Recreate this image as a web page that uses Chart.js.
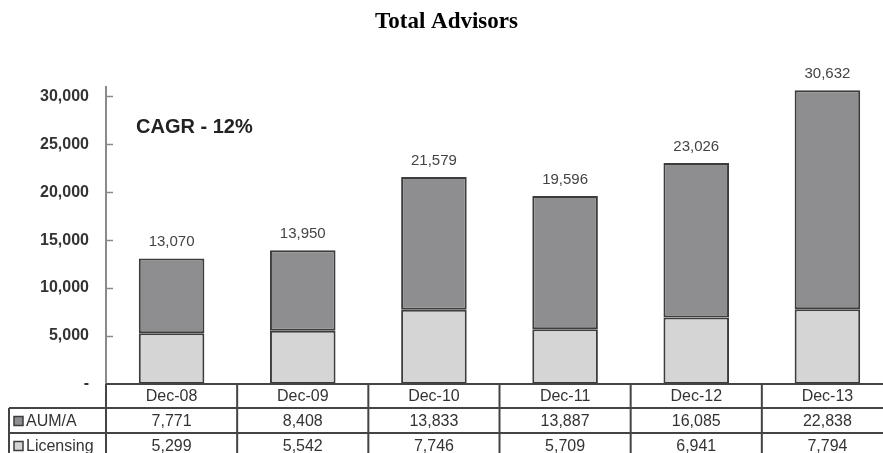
<!DOCTYPE html>
<html>
<head>
<meta charset="utf-8">
<script src="https://cdn.jsdelivr.net/npm/chart.js@4.4.1/dist/chart.umd.min.js"></script>
<style>
  html, body { margin: 0; padding: 0; background: #fff; overflow: hidden; }
  #wrap { width: 900px; height: 453px; }
</style>
</head>
<body>
<div id="wrap"><canvas id="advisorsChart" width="900" height="453"></canvas></div>
<script>
// === Chart data ===
const categories = ["Dec-08", "Dec-09", "Dec-10", "Dec-11", "Dec-12", "Dec-13"];
const aumValues = [7771, 8408, 13833, 13887, 16085, 22838];
const licensingValues = [5299, 5542, 7746, 5709, 6941, 7794];
const totalValues = [13070, 13950, 21579, 19596, 23026, 30632];
const yTickValues = [0, 5000, 10000, 15000, 20000, 25000, 30000];
const cagrText = "CAGR - 12%";

const DARK = "#8e8e90";
const LIGHT = "#d5d5d5";
const EDGE = "#3c3c3c";
const fmt = v => v.toLocaleString("en-US");

// Totals above bars, CAGR note, inward y ticks and the data table under the x axis
const extrasPlugin = {
    id: "extras",
    afterDraw(chart) {
        const ctx = chart.ctx;
        const x = chart.scales.x;
        const y = chart.scales.y;
        const area = chart.chartArea;
        ctx.save();

        // inward tick marks on the y axis
        ctx.strokeStyle = "#8a8a8a";
        ctx.lineWidth = 1.5;
        yTickValues.forEach(v => {
            if (v === 0) return;
            const py = Math.round(y.getPixelForValue(v)) + 0.5;
            ctx.beginPath();
            ctx.moveTo(area.left, py);
            ctx.lineTo(area.left + 7, py);
            ctx.stroke();
        });

        // totals above each bar
        ctx.fillStyle = "#444";
        ctx.font = "15px 'Liberation Sans', Arial, sans-serif";
        ctx.textAlign = "center";
        ctx.textBaseline = "bottom";
        totalValues.forEach((v, i) => {
            ctx.fillText(fmt(v), x.getPixelForValue(i), y.getPixelForValue(v) - 9);
        });

        // CAGR note
        ctx.fillStyle = "#222";
        ctx.font = "bold 20px 'Liberation Sans', Arial, sans-serif";
        ctx.textAlign = "left";
        ctx.textBaseline = "middle";
        ctx.fillText(cagrText, 136, 127);

        // data table
        const top = area.bottom;
        const rowH = [24, 25, 25];
        const r1 = top + rowH[0];
        const r2 = r1 + rowH[1];
        const r3 = r2 + rowH[2];
        const tableLeft = 9;
        const step = (area.right - area.left) / categories.length;

        ctx.strokeStyle = "#444";
        ctx.lineWidth = 2;
        ctx.beginPath();
        ctx.moveTo(area.left, top); ctx.lineTo(area.right, top);
        ctx.moveTo(tableLeft, r1); ctx.lineTo(area.right, r1);
        ctx.moveTo(tableLeft, r2); ctx.lineTo(area.right, r2);
        ctx.moveTo(tableLeft, r1); ctx.lineTo(tableLeft, r3);
        for (let i = 0; i <= categories.length; i++) {
            const bx = area.left + i * step;
            ctx.moveTo(bx, top); ctx.lineTo(bx, r3);
        }
        ctx.stroke();

        ctx.fillStyle = "#333";
        ctx.font = "16px 'Liberation Sans', Arial, sans-serif";
        ctx.textAlign = "center";
        ctx.textBaseline = "middle";
        categories.forEach((c, i) => {
            const cx = x.getPixelForValue(i);
            ctx.fillText(c, cx, top + rowH[0] / 2 + 1);
            ctx.fillText(fmt(aumValues[i]), cx, r1 + rowH[1] / 2 + 1);
            ctx.fillText(fmt(licensingValues[i]), cx, r2 + rowH[2] / 2 + 1);
        });

        // row labels with legend swatches
        const rows = [
            { label: "AUM/A", color: DARK, yc: r1 + rowH[1] / 2 },
            { label: "Licensing", color: LIGHT, yc: r2 + rowH[2] / 2 }
        ];
        ctx.textAlign = "left";
        rows.forEach(r => {
            ctx.fillStyle = r.color;
            ctx.fillRect(14, r.yc - 4, 9, 9);
            ctx.strokeStyle = EDGE;
            ctx.lineWidth = 1.5;
            ctx.strokeRect(14, r.yc - 4, 9, 9);
            ctx.fillStyle = "#333";
            ctx.fillText(r.label, 26, r.yc + 1);
        });

        ctx.restore();
    }
};

new Chart(document.getElementById("advisorsChart").getContext("2d"), {
    type: "bar",
    data: {
        labels: categories,
        datasets: [
            {
                label: "Licensing",
                data: licensingValues,
                backgroundColor: LIGHT,
                borderColor: EDGE,
                borderWidth: 2,
                borderSkipped: false
            },
            {
                label: "AUM/A",
                data: aumValues,
                backgroundColor: DARK,
                borderColor: EDGE,
                borderWidth: 2,
                borderSkipped: false
            }
        ]
    },
    options: {
        responsive: false,
        animation: false,
        devicePixelRatio: 1,
        layout: { padding: { left: 0, right: 7, top: 0, bottom: 69 } },
        datasets: { bar: { barPercentage: 0.5, categoryPercentage: 1 } },
        scales: {
            x: {
                stacked: true,
                display: false
            },
            y: {
                stacked: true,
                min: 0,
                max: 31000,
                afterFit: scale => { scale.width = 106; },
                afterBuildTicks: scale => {
                    scale.ticks = yTickValues.map(v => ({ value: v }));
                },
                ticks: {
                    padding: 17,
                    color: "#333",
                    font: { family: "'Liberation Sans', Arial, sans-serif", size: 16, weight: "bold" },
                    callback: v => (v === 0 ? "-" : fmt(v))
                },
                grid: { display: false, drawTicks: false },
                border: { display: true, color: "#8a8a8a", width: 2 }
            }
        },
        plugins: {
            legend: { display: false },
            tooltip: { enabled: false },
            title: {
                display: true,
                text: "Total Advisors",
                color: "#000",
                font: { family: "'Liberation Serif', 'Times New Roman', serif", size: 23, weight: "bold" },
                padding: { top: 8, bottom: 51 }
            }
        }
    },
    plugins: [extrasPlugin]
});
</script>
</body>
</html>
